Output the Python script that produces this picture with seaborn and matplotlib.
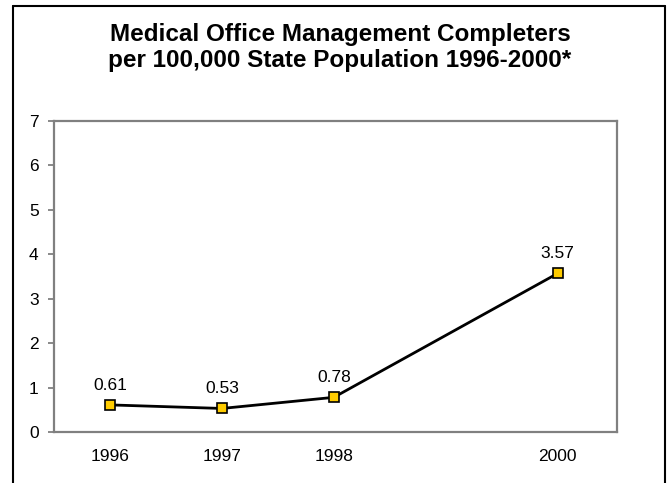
import matplotlib
matplotlib.use("Agg")
import matplotlib.pyplot as plt
import seaborn as sns
import pandas as pd
from matplotlib.lines import Line2D

years = [1996, 1997, 1998, 2000]
values = [0.61, 0.53, 0.78, 3.57]
labels = ["0.61", "0.53", "0.78", "3.57"]
yticks = [0, 1, 2, 3, 4, 5, 6, 7]
title_lines = ["Medical Office Management Completers",
               "per 100,000 State Population 1996-2000*"]

sns.set_style("white")
plt.rcParams["font.family"] = ["Liberation Sans", "DejaVu Sans"]
plt.rcParams["text.color"] = "black"

W, H = 672, 483
fig = plt.figure(figsize=(W / 100, H / 100), dpi=100)
ax = fig.add_axes([54 / W, 1 - 432 / H, (617 - 54) / W, (432 - 121) / H])

df = pd.DataFrame({"year": years, "value": values})
sns.lineplot(data=df, x="year", y="value", ax=ax, color="black", linewidth=2.0,
             marker="s", markersize=7, markerfacecolor="#FFCC00",
             markeredgecolor="black", markeredgewidth=1.2)

for x, y, t in zip(years, values, labels):
    ax.annotate(t, (x, y), xytext=(0, 11), textcoords="offset points",
                ha="center", va="baseline", fontsize=12.5, color="black")

ax.set_xlim(1995.5, 2000.53)
ax.set_ylim(0, 7)
ax.set_xticks(years)
ax.set_xticklabels([str(y) for y in years])
ax.set_yticks(yticks)
ax.set_xlabel("")
ax.set_ylabel("")
for s in ax.spines.values():
    s.set_color("#808080")
    s.set_linewidth(1.6)
    s.set_visible(True)
ax.tick_params(axis="y", left=True, length=4, width=1.3, color="#808080",
               pad=7, labelsize=12.5, labelcolor="black", direction="out")
ax.tick_params(axis="x", bottom=False, length=0, pad=12, labelsize=12.5,
               labelcolor="black")
ax.grid(False)

# outer chart frame (open at the bottom)
fx0, fx1, fy0 = 12.7 / W, 665 / W, 1 - 6 / H
for xs, ys in (([fx0, fx0], [0, fy0]), ([fx1, fx1], [0, fy0]), ([fx0, fx1], [fy0, fy0])):
    fig.add_artist(Line2D(xs, ys, transform=fig.transFigure, color="black", lw=1.5))

fig.text(340 / W, 1 - 41 / H, title_lines[0], ha="center", va="baseline",
         fontsize=17.5, fontweight="bold", color="black")
fig.text(340 / W, 1 - 67 / H, title_lines[1], ha="center", va="baseline",
         fontsize=17.5, fontweight="bold", color="black")

fig.savefig("out.png", dpi=100)
